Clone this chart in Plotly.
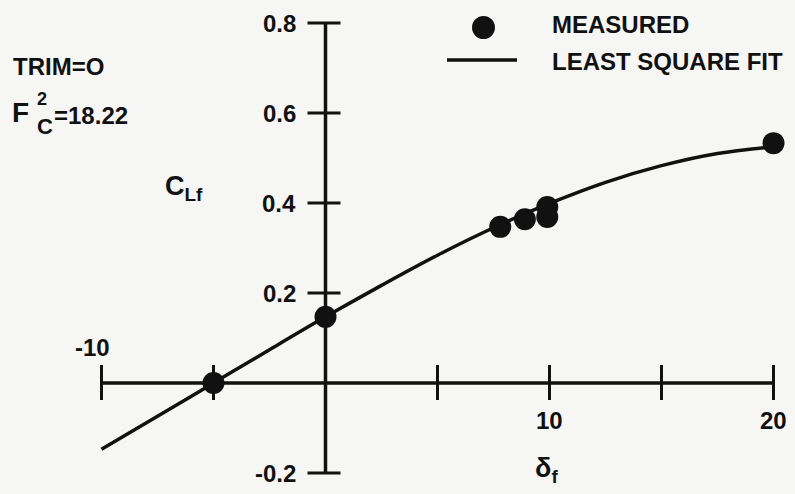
import plotly.graph_objects as go

# Measured lift coefficient of the flap vs flap deflection
delta_meas = [-5.0, 0.0, 7.8, 8.9, 9.9, 9.9, 20.0]
clf_meas = [0.0, 0.147, 0.347, 0.364, 0.391, 0.369, 0.533]

# Least square fit curve, sampled along the deflection range
delta_fit = [-10, -7.5, -5, -2.5, 0, 2.5, 5, 7.5, 10, 12.5, 15, 17.5, 20]
clf_fit = [-0.147, -0.074, 0.0, 0.074, 0.147, 0.217, 0.284, 0.345, 0.399,
           0.446, 0.483, 0.510, 0.525]

# Axis ticks
x_ticks = [-10, -5, 0, 5, 10, 15, 20]
x_tick_labels = {-10: "-10", 10: "10", 20: "20"}
y_ticks = [-0.2, 0.0, 0.2, 0.4, 0.6, 0.8]
y_tick_labels = {0.8: "0.8", 0.6: "0.6", 0.4: "0.4", 0.2: "0.2", -0.2: "-0.2"}

W, H = 795, 494
INK = "#111111"
FONT = "Liberation Sans"
FS = 24
LW = 3.5


def font(size=FS):
    return dict(size=size, color=INK, family=FONT, weight="bold")


fig = go.Figure()

fig.add_trace(go.Scatter(
    x=delta_fit, y=clf_fit, mode="lines",
    line=dict(color=INK, width=LW, shape="spline", smoothing=1.0),
    hoverinfo="skip", showlegend=False,
))
fig.add_trace(go.Scatter(
    x=delta_meas, y=clf_meas, mode="markers",
    marker=dict(color=INK, size=22, line=dict(width=0)),
    showlegend=False,
))

shapes = []
# Axis lines crossing at the origin
shapes.append(dict(type="line", xref="x", yref="y",
                   x0=min(x_ticks), x1=max(x_ticks), y0=0, y1=0,
                   line=dict(color=INK, width=LW)))
shapes.append(dict(type="line", xref="x", yref="y",
                   x0=0, x1=0, y0=min(y_ticks), y1=max(y_ticks),
                   line=dict(color=INK, width=LW)))
# Crossing tick marks
for t in x_ticks:
    if t == 0:
        continue
    shapes.append(dict(type="line", xref="x", yref="y", ysizemode="pixel",
                       yanchor=0, x0=t, x1=t, y0=-17, y1=18,
                       line=dict(color=INK, width=3)))
for t in y_ticks:
    if t == 0:
        continue
    shapes.append(dict(type="line", xref="x", yref="y", xsizemode="pixel",
                       xanchor=0, y0=t, y1=t, x0=-18, x1=15,
                       line=dict(color=INK, width=3)))


def px(x):
    return x / W


def py(y):
    return 1 - y / H


# Legend symbols
shapes.append(dict(type="circle", xref="paper", yref="paper",
                   x0=px(472), x1=px(495), y0=py(39), y1=py(16),
                   fillcolor=INK, line=dict(width=0)))
shapes.append(dict(type="line", xref="paper", yref="paper",
                   x0=px(447), x1=px(517), y0=py(60), y1=py(60),
                   line=dict(color=INK, width=LW)))

ann = []
for t, s in y_tick_labels.items():
    ann.append(dict(x=0, y=t, xref="x", yref="y", text=s, showarrow=False,
                    xanchor="right", yanchor="middle", xshift=-28,
                    font=font()))
for t, s in x_tick_labels.items():
    if t < 0:
        ann.append(dict(x=t, y=0, xref="x", yref="y", text=s, showarrow=False,
                        xanchor="center", yanchor="middle", xshift=-9, yshift=36,
                        font=font()))
    else:
        ann.append(dict(x=t, y=0, xref="x", yref="y", text=s, showarrow=False,
                        xanchor="center", yanchor="middle", yshift=-37,
                        font=font()))


def label(x, y, text, size=FS, anchor="left"):
    ann.append(dict(x=px(x), y=py(y), xref="paper", yref="paper", text=text,
                    showarrow=False, xanchor=anchor, yanchor="middle",
                    font=font(size)))


label(550, 25, "MEASURED")
label(550, 62, "LEAST SQUARE FIT")
label(11, 66, "TRIM=O")
label(10, 112, "F", size=28)
label(35, 99, "2", size=18)
label(35, 126, "C", size=22)
label(52, 115, "=18.22")
label(163, 188, "C<sub>Lf</sub>", size=27)
label(533, 470, "δ<sub>f</sub>", size=27)

fig.update_layout(
    width=W, height=H,
    margin=dict(l=0, r=0, t=0, b=0, pad=0),
    paper_bgcolor="#f6f6f4", plot_bgcolor="#f6f6f4",
    xaxis=dict(range=[-325.5 / 22.4, (W - 325.5) / 22.4], visible=False,
               fixedrange=True),
    yaxis=dict(range=[(383 - H) / 450, 383 / 450], visible=False,
               fixedrange=True),
    shapes=shapes, annotations=ann, showlegend=False,
)

fig.write_html("out.html")
